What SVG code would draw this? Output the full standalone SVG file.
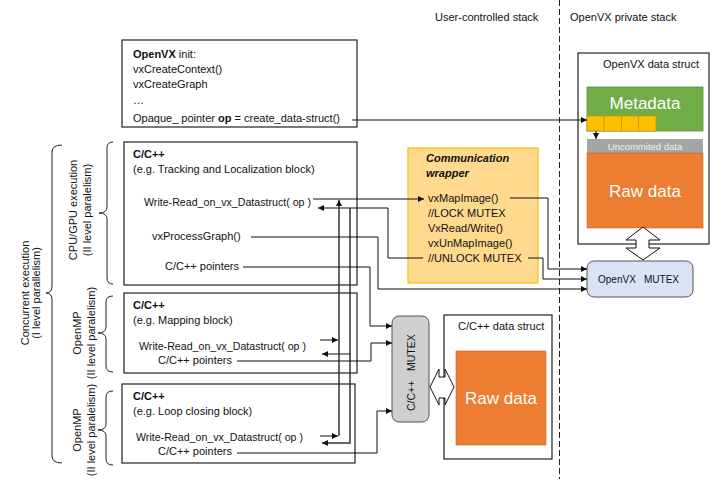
<svg xmlns="http://www.w3.org/2000/svg" width="721" height="479" viewBox="0 0 721 479">
<defs>
<style>
text{font-family:"Liberation Sans",Arial,sans-serif;font-size:11px;fill:#111}
.box{fill:#fff;stroke:#222;stroke-width:1.2}
.b{font-weight:bold}
.ln{fill:none;stroke:#111;stroke-width:1}
.bus{fill:none;stroke:#333;stroke-width:1.5}
.br{fill:none;stroke:#222;stroke-width:1}
.dbl{fill:#fff;stroke:#111;stroke-width:1}
</style>
<marker id="ah" viewBox="0 0 10 10" refX="10" refY="5" markerWidth="7" markerHeight="6" markerUnits="userSpaceOnUse" orient="auto">
<path d="M0,0 L10,5 L0,10 z" fill="#111"/>
</marker>
</defs>
<rect width="721" height="479" fill="#fff"/>

<!-- stack separator and headers -->
<g id="stacks">
<line x1="559.5" y1="0" x2="559.5" y2="479" stroke="#222" stroke-width="1" stroke-dasharray="6,3"/>
<text x="435" y="21">User-controlled stack</text>
<text x="570" y="21">OpenVX private stack</text>
</g>

<!-- braces and side labels -->
<g id="concurrent">
<path class="br" d="M62,145 Q52,145 52,152 L52,286 Q52,293 46,293 Q52,293 52,300 L52,456 Q52,463 62,463"/>
<text transform="translate(29,293) rotate(-90)" text-anchor="middle">Concurrent execution</text>
<text transform="translate(40,293) rotate(-90)" text-anchor="middle">(I level parallelism)</text>
</g>
<g id="cpugpu-label">
<path class="br" d="M113,142 Q107,142 107,148 L107,207 Q107,213 99,213 Q107,213 107,219 L107,278 Q107,284 113,284"/>
<text transform="translate(77,210) rotate(-90)" text-anchor="middle">CPU/GPU execution</text>
<text transform="translate(91,210) rotate(-90)" text-anchor="middle">(II level paralelism)</text>
</g>
<g id="openmp1-label">
<path class="br" d="M113,296 Q106,296 106,302 L106,327 Q106,333 98,333 Q106,333 106,339 L106,366 Q106,372 113,372"/>
<text transform="translate(81,333) rotate(-90)" text-anchor="middle">OpenMP</text>
<text transform="translate(95,333) rotate(-90)" text-anchor="middle">(II level paralelism)</text>
</g>
<g id="openmp2-label">
<path class="br" d="M113,391 Q106,391 106,397 L106,424 Q106,430 98,430 Q106,430 106,436 L106,459 Q106,465 113,465"/>
<text transform="translate(81,430) rotate(-90)" text-anchor="middle">OpenMP</text>
<text transform="translate(95,430) rotate(-90)" text-anchor="middle">(II level paralelism)</text>
</g>

<!-- init box -->
<g id="init">
<rect class="box" x="122" y="40" width="235" height="87"/>
<text x="133" y="58"><tspan class="b">OpenVX</tspan> init:</text>
<text x="133" y="73">vxCreateContext()</text>
<text x="133" y="88">vxCreateGraph</text>
<text x="133" y="104">…</text>
<text x="133" y="122">Opaque_ pointer <tspan class="b">op</tspan> = create_data-struct()</text>
</g>

<!-- CPU/GPU block -->
<g id="tracking">
<rect class="box" x="124" y="142" width="233" height="143"/>
<text x="133" y="158" class="b">C/C++</text>
<text x="133" y="173">(e.g. Tracking and Localization block)</text>
<text x="144" y="206" textLength="167" lengthAdjust="spacingAndGlyphs">Write-Read_on_vx_Datastruct( op )</text>
<text x="152" y="240">vxProcessGraph()</text>
<text x="165" y="270">C/C++ pointers</text>
</g>

<!-- Mapping block -->
<g id="mapping">
<rect class="box" x="124" y="293" width="233" height="80"/>
<text x="133" y="309" class="b">C/C++</text>
<text x="133" y="324">(e.g. Mapping block)</text>
<text x="139" y="350" textLength="167" lengthAdjust="spacingAndGlyphs">Write-Read_on_vx_Datastruct( op )</text>
<text x="158" y="364">C/C++ pointers</text>
</g>

<!-- Loop closing block -->
<g id="loopclosing">
<rect class="box" x="122" y="384" width="233" height="79"/>
<text x="133" y="400" class="b">C/C++</text>
<text x="133" y="415">(e.g. Loop closing block)</text>
<text x="136" y="441" textLength="167" lengthAdjust="spacingAndGlyphs">Write-Read_on_vx_Datastruct( op )</text>
<text x="158" y="455">C/C++ pointers</text>
</g>

<!-- Communication wrapper -->
<g id="wrapper">
<rect x="408" y="148" width="130" height="135" fill="#ffd98e" stroke="#ffc000" stroke-width="1.2"/>
<text x="426" y="162" class="b" font-style="italic">Communication</text>
<text x="426" y="177" class="b" font-style="italic">wrapper</text>
<text x="428" y="202">vxMapImage()</text>
<text x="428" y="217">//LOCK MUTEX</text>
<text x="428" y="232">VxRead/Write()</text>
<text x="428" y="247">vxUnMapImage()</text>
<text x="428" y="262">//UNLOCK MUTEX</text>
</g>

<!-- OpenVX data struct -->
<g id="openvx-data">
<rect class="box" x="578" y="53" width="131" height="191"/>
<text x="603" y="68">OpenVX data struct</text>
<rect x="587" y="87" width="116" height="44" fill="#70ad47" stroke="#5a9038" stroke-width="0.8"/>
<text x="645" y="109" text-anchor="middle" style="font-size:17px;fill:#fff">Metadata</text>
<g fill="#ffc000" stroke="#c99700" stroke-width="0.8">
<rect x="587" y="116" width="17" height="15"/>
<rect x="604" y="116" width="17.5" height="15"/>
<rect x="621.5" y="116" width="17" height="15"/>
<rect x="638.5" y="116" width="17.5" height="15"/>
</g>
<rect x="587" y="139" width="116" height="14" fill="#a5a5a5"/>
<text x="645" y="150" text-anchor="middle" style="font-size:9.5px;fill:#f2f2f2">Uncommited data</text>
<rect x="587" y="153" width="116" height="75" fill="#ed7d31" stroke="#c9651f" stroke-width="0.6"/>
<text x="645" y="197" text-anchor="middle" style="font-size:17px;fill:#fff">Raw data</text>
</g>

<!-- OpenVX mutex -->
<g id="openvx-mutex">
<rect x="587" y="261" width="106" height="36" rx="7" fill="#dae3f3" stroke="#555" stroke-width="1"/>
<text x="598" y="283" style="font-size:10px">OpenVX<tspan x="644">MUTEX</tspan></text>
</g>

<!-- C/C++ mutex -->
<g id="cpp-mutex">
<rect x="392" y="316" width="37" height="106" rx="7" fill="#d0cece" stroke="#555" stroke-width="1"/>
<text transform="translate(415,373) rotate(-90)" style="font-size:10.5px"><tspan x="-38">C/C++</tspan><tspan x="2">MUTEX</tspan></text>
</g>

<!-- C/C++ data struct -->
<g id="cpp-data">
<rect class="box" x="444" y="315" width="108" height="144"/>
<text x="458" y="330">C/C++ data struct</text>
<rect x="456" y="351" width="90" height="94" fill="#ed7d31" stroke="#c9651f" stroke-width="0.6"/>
<text x="501" y="404" text-anchor="middle" style="font-size:17px;fill:#fff">Raw data</text>
</g>

<!-- connectors -->
<g id="connectors">
<polyline class="ln" points="352,120 587,120" marker-end="url(#ah)"/>
<polyline class="ln" points="596,131 596,139" marker-end="url(#ah)"/>
<polyline class="ln" points="313,199 424,199" marker-end="url(#ah)"/>
<polyline class="ln" points="423,258 388,258 388,208 318,208" marker-end="url(#ah)"/>
<polyline class="bus" points="350,208 350,443 322,443" marker-end="url(#ah)"/>
<polyline class="ln" points="350,354 322,354" marker-end="url(#ah)"/>
<polyline class="ln" points="320,340 338,340" marker-end="url(#ah)"/>
<polyline class="ln" points="320,436 338,436" marker-end="url(#ah)"/>
<polyline class="bus" points="339,436 339,200" marker-end="url(#ah)"/>
<polyline class="ln" points="251,237 378,237 378,289 587,289" marker-end="url(#ah)"/>
<polyline class="ln" points="243,267 370,267 370,326 392,326" marker-end="url(#ah)"/>
<polyline class="ln" points="237,361 371,361 371,343 392,343" marker-end="url(#ah)"/>
<polyline class="ln" points="237,453 377,453 377,411 392,411" marker-end="url(#ah)"/>
<polyline class="ln" points="510,198 548,198 548,269 587,269" marker-end="url(#ah)"/>
<polyline class="ln" points="528,258 543,258 543,279 587,279" marker-end="url(#ah)"/>
<polygon class="dbl" points="643,227 660,240 649,240 649,248 660,248 643,260 626,248 636,248 636,240 626,240"/>
<polygon class="dbl" points="430,387 439,369 439,377 445,377 445,369 454,387 445,405 445,398 439,398 439,405"/>
</g>
</svg>
